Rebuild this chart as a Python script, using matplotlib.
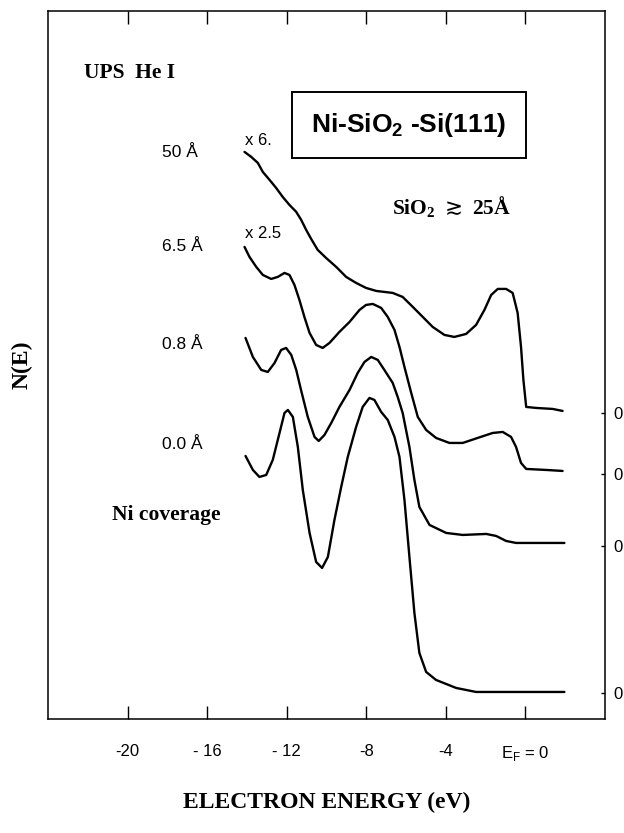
import matplotlib
matplotlib.use("Agg")
import matplotlib.pyplot as plt

# UPS He I spectra, Ni on SiO2/Si(111); heights are N(E) in arbitrary units
coverages = ["50 Å", "6.5 Å", "0.8 Å", "0.0 Å"]
scale_labels = ["x 6.", "x 2.5", "", ""]
baselines = [306, 245, 173, 26]

e50 = [-14.12, -13.78, -13.45, -13.20, -12.86, -12.53, -12.20, -11.86, -11.52, -11.27,
       -11.02, -10.77, -10.44, -10.02, -9.51, -9.01, -8.51, -8.01, -7.50, -6.67,
       -6.17, -5.66, -5.16, -4.66, -4.07, -3.57, -2.98, -2.48, -2.06, -1.72,
       -1.39, -0.97, -0.64, -0.39, -0.22, -0.10, 0.04, 0.54, 1.37, 1.87]
n50 = [261, 256, 250, 241, 233, 225, 216, 208, 201, 193,
       183, 174, 163, 155, 146, 136, 130, 125, 122, 120,
       116, 106, 96, 86, 78, 76, 79, 88, 103, 118,
       124, 124, 120, 100, 66, 33, 6, 5, 4, 2]

e65 = [-14.12, -13.87, -13.53, -13.20, -12.78, -12.45, -12.11, -11.86, -11.61, -11.36,
       -11.11, -10.85, -10.52, -10.19, -9.85, -9.35, -8.84, -8.34, -8.01, -7.67,
       -7.25, -6.92, -6.58, -6.33, -6.08, -5.74, -5.41, -4.99, -4.49, -3.82,
       -3.15, -2.40, -1.64, -1.14, -0.72, -0.47, -0.22, 0.04, 1.04, 1.87]
n65 = [227, 217, 207, 199, 195, 197, 201, 199, 189, 174,
       157, 141, 129, 126, 131, 142, 152, 164, 169, 170,
       166, 157, 144, 127, 107, 81, 57, 44, 36, 31,
       31, 36, 41, 42, 37, 27, 11, 5, 4, 3]

e08 = [-14.07, -13.70, -13.28, -12.95, -12.61, -12.28, -12.03, -11.77, -11.52, -11.28,
       -10.94, -10.60, -10.39, -10.10, -9.76, -9.35, -8.84, -8.43, -8.09, -7.75,
       -7.42, -7.09, -6.67, -6.42, -6.17, -5.83, -5.58, -5.33, -4.82, -3.98,
       -3.15, -1.97, -1.47, -0.97, -0.47, 1.96]
n08 = [208, 189, 176, 174, 183, 196, 198, 191, 176, 156,
       129, 109, 105, 111, 123, 139, 156, 173, 184, 189,
       186, 176, 163, 149, 133, 99, 66, 39, 21, 13,
       11, 12, 10, 5, 3, 3]

e00 = [-14.07, -13.70, -13.37, -13.03, -12.70, -12.36, -12.11, -11.94, -11.69, -11.44,
       -11.19, -10.85, -10.52, -10.22, -9.93, -9.60, -9.26, -8.93, -8.51, -8.18,
       -7.84, -7.59, -7.25, -6.92, -6.58, -6.33, -6.08, -5.83, -5.58, -5.33,
       -4.99, -4.49, -3.48, -2.48, 1.96]
n00 = [237, 223, 216, 218, 233, 260, 280, 283, 276, 246,
       203, 160, 131, 125, 136, 173, 206, 236, 266, 286,
       295, 293, 281, 273, 256, 236, 193, 136, 80, 40,
       21, 13, 5, 1, 1]

energies = [e50, e65, e08, e00]
counts = [n50, n65, n08, n00]

x_ticks = [-20, -16, -12, -8, -4, 0]
x_ticklabels = ["-20", "- 16", "- 12", "-8", "-4", "E$_\\mathregular{F}$ = 0"]

SANS = "Liberation Sans"
SERIF = "Liberation Serif"

fig = plt.figure(figsize=(6.24, 8.33), dpi=100)
ax = fig.add_axes([0.0769, 0.1369, 0.8926, 0.850])

for e, n, base in zip(energies, counts, baselines):
    ax.plot(e, [base + v for v in n], color="black", lw=1.7,
            solid_joinstyle="round", solid_capstyle="round")

ax.set_xlim(-24, 4)
ax.set_ylim(0, 708)

ax.set_xticks(x_ticks)
ax.set_xticklabels(x_ticklabels, fontfamily=SANS, fontsize=12)
ax.tick_params(axis="x", direction="in", length=9.5, width=1.0, top=True, pad=18)

ax.yaxis.tick_right()
ax.set_yticks(baselines)
ax.set_yticklabels(["0"] * len(baselines), fontfamily=SANS, fontsize=12)
ax.tick_params(axis="y", direction="in", length=3, width=1.0, pad=6, left=False)

for sp in ax.spines.values():
    sp.set_linewidth(1.1)

ax.set_xlabel("ELECTRON ENERGY (eV)", fontfamily=SERIF, fontweight="bold",
              fontsize=17, labelpad=21)
fig.text(0.035, 0.5625, "N(E)", rotation=90, fontfamily=SERIF, fontweight="bold",
         fontsize=17, ha="center", va="center")

# coverage labels and scale factors
label_y = [566, 472, 374, 274]
for lab, y in zip(coverages, label_y):
    ax.text(-18.29, y, lab, fontfamily=SANS, fontsize=12.5, va="center", ha="left")
scale_y = [578, 485]
for lab, y in zip(scale_labels[:2], scale_y):
    ax.text(-14.12, y, lab, fontfamily=SANS, fontsize=12, va="center", ha="left")

ax.text(-22.2, 646, "UPS  He I", fontfamily=SERIF, fontweight="bold",
        fontsize=15.5, va="center", ha="left")
ax.text(-20.79, 204, "Ni coverage", fontfamily=SERIF, fontweight="bold",
        fontsize=15.5, va="center", ha="left")
ax.text(-5.85, 594, "Ni-SiO$_\\mathregular{2}$ -Si(111)", fontfamily=SANS,
        fontweight="bold", fontsize=19, va="center", ha="center",
        bbox=dict(boxstyle="square,pad=0.72", fc="white", ec="black", lw=1.4))
ax.text(-6.73, 512, "SiO$_\\mathregular{2}$ $\\gtrsim$ 25Å", fontfamily=SERIF,
        fontweight="bold", fontsize=15.5, va="center", ha="left")

fig.savefig("out.png", dpi=100)
